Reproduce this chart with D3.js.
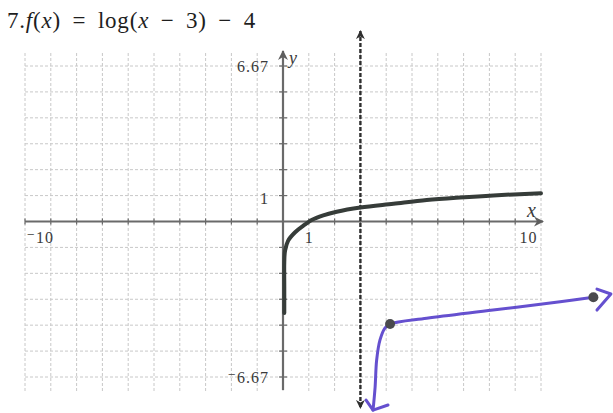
<!DOCTYPE html>
<html>
<head>
<meta charset="utf-8">
<script src="https://cdn.jsdelivr.net/npm/d3@7"></script>
<style>
  html, body { margin: 0; padding: 0; background: #fff; }
  svg { display: block; }
  .tick-label text { font-family: "Liberation Serif", "DejaVu Serif", serif; font-size: 16px; fill: #3a3a3a; letter-spacing: 1px; }
</style>
</head>
<body>
<svg id="chart" width="613" height="413"></svg>
<script>
// Viewing window
const xDomain = [-10, 10];
const yDomain = [-6.67, 6.67];
const xGridStep = 1;
const yGridCount = 6;            // grid lines on each side of the x-axis

// Axis labels
const xTickValues = [-10, 1, 10];
const xTickLabels = ["\u207B10", "1", "10"];
const yTickValues = [6.67, 1, -6.67];
const yTickLabels = ["6.67", "1", "\u207B6.67"];

// Vertical asymptote of the transformed function
const asymptoteX = 3;

// Parent function y = log(x), as plotted
const parentX = [0.05, 0.05, 0.05, 0.08, 0.20, 0.47, 0.79, 1.11, 1.56, 2.08, 3.00, 4.28, 5.57, 6.86, 8.15, 10.0];
const parentY = [-3.93, -2.80, -1.74, -1.25, -0.82, -0.46, -0.18, 0.06, 0.26, 0.42, 0.60, 0.76, 0.92, 1.03, 1.12, 1.21];

// Sketch of f(x) = log(x - 3) - 4
const sketchX = [3.49, 3.57, 3.63, 3.76, 3.95, 4.15, 5.57, 8.14, 10.74, 12.03];
const sketchY = [-8.09, -7.10, -5.94, -5.08, -4.57, -4.40, -4.15, -3.80, -3.44, -3.25];
const sketchRightArrowX = [12.17, 12.71, 12.17];
const sketchRightArrowY = [-2.90, -3.11, -3.80];
const sketchLeftArrowX = [3.22, 3.49, 4.07];
const sketchLeftArrowY = [-7.66, -8.09, -7.87];

// Plotted key points
const pointX = [4.15, 12.03];
const pointY = [-4.40, -3.25];

const svg = d3.select("#chart");

const x = d3.scaleLinear().domain(xDomain).range([25, 541]);
const y = d3.scaleLinear().domain(yDomain).range([377, 66]);

// Title
const title = svg.append("text")
  .attr("x", 7).attr("y", 28)
  .style("font-family", "'Liberation Serif', 'DejaVu Serif', serif")
  .style("font-size", "23px")
  .style("letter-spacing", "0.8px")
  .style("word-spacing", "5px")
  .style("fill", "#1e1e1e");
title.append("tspan").text("7.");
title.append("tspan").style("font-style", "italic").text("f");
title.append("tspan").text("(");
title.append("tspan").style("font-style", "italic").text("x");
title.append("tspan").text(") = log(");
title.append("tspan").style("font-style", "italic").text("x");
title.append("tspan").text(" \u2212 3) \u2212 4");

// Grid
const xGrid = d3.range(xDomain[0], xDomain[1] + xGridStep / 2, xGridStep);
const yStep = yDomain[1] / yGridCount;
const yGrid = d3.range(-yGridCount, yGridCount + 1).map(k => k * yStep);
const gridTop = y(yDomain[1]) - 13;
const gridBottom = y(yDomain[0]) + 14;

const grid = svg.append("g")
  .attr("stroke", "#c8c8c8")
  .attr("stroke-width", 1)
  .attr("stroke-dasharray", "3,2");
grid.selectAll("line.v").data(xGrid).join("line")
  .attr("class", "v")
  .attr("x1", d => x(d)).attr("x2", d => x(d))
  .attr("y1", gridTop).attr("y2", gridBottom);
grid.selectAll("line.h").data(yGrid).join("line")
  .attr("class", "h")
  .attr("x1", x(xDomain[0])).attr("x2", x(xDomain[1]))
  .attr("y1", d => y(d)).attr("y2", d => y(d));

// Arrow markers
const defs = svg.append("defs");
function marker(id, color, w, h) {
  defs.append("marker")
    .attr("id", id)
    .attr("viewBox", "0 0 10 10")
    .attr("refX", 9).attr("refY", 5)
    .attr("markerWidth", w).attr("markerHeight", h)
    .attr("markerUnits", "userSpaceOnUse")
    .attr("orient", "auto-start-reverse")
    .append("path")
    .attr("d", "M0,0 L10,5 L0,10 L3,5 Z")
    .attr("fill", color);
}
marker("axisArrow", "#5e5e5e", 10, 10);
marker("dashArrow", "#2e2e2e", 9, 9);

// Axes lines
const axisColor = "#6a6a6a";
svg.append("line")
  .attr("x1", x(xDomain[0])).attr("x2", x(xDomain[1]) + 2)
  .attr("y1", y(0)).attr("y2", y(0))
  .attr("stroke", axisColor).attr("stroke-width", 2.2)
  .attr("marker-end", "url(#axisArrow)");
svg.append("line")
  .attr("x1", x(0)).attr("x2", x(0))
  .attr("y1", y(yDomain[0]) + 13).attr("y2", y(yDomain[1]) - 15)
  .attr("stroke", axisColor).attr("stroke-width", 2.2)
  .attr("marker-end", "url(#axisArrow)");

// Small tick marks along the axes
svg.append("g").selectAll("line").data(xGrid.filter(d => d !== 0 && d !== xDomain[1])).join("line")
  .attr("x1", d => x(d)).attr("x2", d => x(d))
  .attr("y1", y(0) - 3).attr("y2", y(0) + 3)
  .attr("stroke", axisColor).attr("stroke-width", 1.2);
svg.append("g").selectAll("line").data(yGrid.filter(d => d !== 0)).join("line")
  .attr("x1", x(0) - 4).attr("x2", x(0) + 4)
  .attr("y1", d => y(d)).attr("y2", d => y(d))
  .attr("stroke", axisColor).attr("stroke-width", 1.2);

// Tick labels
const yAxis = d3.axisLeft(y)
  .tickValues(yTickValues)
  .tickFormat((d, i) => yTickLabels[i])
  .tickSize(0).tickPadding(14);
const gy = svg.append("g").attr("class", "tick-label")
  .attr("transform", `translate(${x(0)},0)`)
  .call(yAxis);
gy.select(".domain").remove();
gy.selectAll("text").attr("font-family", null).attr("font-size", null);

const xAxis = d3.axisBottom(x)
  .tickValues(xTickValues)
  .tickFormat((d, i) => xTickLabels[i])
  .tickSize(0).tickPadding(10);
const gx = svg.append("g").attr("class", "tick-label")
  .attr("transform", `translate(0,${y(0)})`)
  .call(xAxis);
gx.select(".domain").remove();
gx.selectAll("text")
  .attr("font-family", null).attr("font-size", null)
  .attr("text-anchor", d => d === xDomain[0] ? "start" : d === xDomain[1] ? "end" : "middle")
  .attr("dx", d => d === xDomain[0] ? 1 : d === xDomain[1] ? -4 : 0);

// Axis names
svg.append("text")
  .attr("x", x(0) + 6).attr("y", y(yDomain[1]) - 2)
  .style("font-family", "'Liberation Serif', serif")
  .style("font-style", "italic").style("font-size", "18px").style("fill", "#3a3a3a")
  .text("y");
svg.append("text")
  .attr("x", x(xDomain[1]) - 14).attr("y", y(0) - 5)
  .style("font-family", "'Liberation Serif', serif")
  .style("font-style", "italic").style("font-size", "20px").style("fill", "#3a3a3a")
  .text("x");

// Vertical asymptote x = 3
svg.append("line")
  .attr("x1", x(asymptoteX)).attr("x2", x(asymptoteX))
  .attr("y1", y(yDomain[1]) - 35).attr("y2", y(yDomain[0]) + 31)
  .attr("stroke", "#2e2e2e").attr("stroke-width", 2.4)
  .attr("stroke-dasharray", "4,2")
  .attr("marker-start", "url(#dashArrow)")
  .attr("marker-end", "url(#dashArrow)");

// Parent curve
const line = d3.line().x(d => x(d[0])).y(d => y(d[1])).curve(d3.curveCatmullRom.alpha(0.5));
svg.append("path")
  .datum(parentX.map((v, i) => [v, parentY[i]]))
  .attr("d", line)
  .attr("fill", "none")
  .attr("stroke", "#363c39")
  .attr("stroke-width", 4)
  .attr("stroke-linecap", "round");

// Hand sketch of the transformed curve
const sketchColor = "#6550cf";
svg.append("path")
  .datum(sketchX.map((v, i) => [v, sketchY[i]]))
  .attr("d", line)
  .attr("fill", "none")
  .attr("stroke", sketchColor)
  .attr("stroke-width", 3)
  .attr("stroke-linecap", "round");
const straight = d3.line().x(d => x(d[0])).y(d => y(d[1]));
[[sketchRightArrowX, sketchRightArrowY], [sketchLeftArrowX, sketchLeftArrowY]].forEach(([ax, ay]) => {
  svg.append("path")
    .datum(ax.map((v, i) => [v, ay[i]]))
    .attr("d", straight)
    .attr("fill", "none")
    .attr("stroke", sketchColor)
    .attr("stroke-width", 3)
    .attr("stroke-linecap", "round")
    .attr("stroke-linejoin", "round");
});

// Key points
svg.append("g").selectAll("circle")
  .data(pointX.map((v, i) => [v, pointY[i]]))
  .join("circle")
  .attr("cx", d => x(d[0])).attr("cy", d => y(d[1]))
  .attr("r", 5)
  .attr("fill", "#4a4a4e");
</script>
</body>
</html>
